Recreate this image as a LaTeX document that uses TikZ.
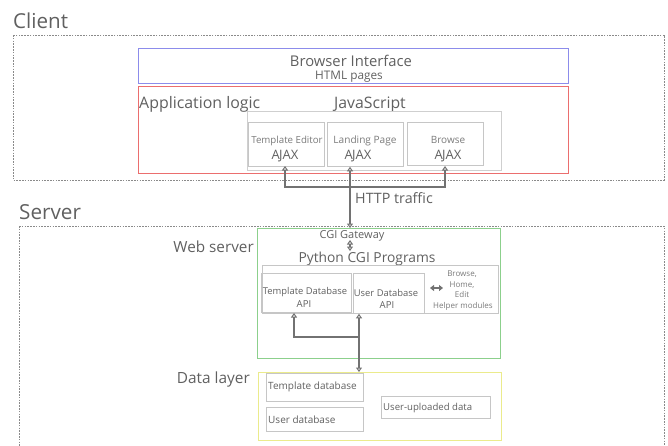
\documentclass[tikz,border=0pt]{standalone}
\usepackage{fontspec}
\setmainfont{Open Sans}
\usetikzlibrary{arrows.meta}
\definecolor{txt}{HTML}{606060}
\definecolor{txtlight}{HTML}{7A7A7A}
\definecolor{frame}{HTML}{8A8A8A}
\definecolor{inner}{HTML}{C6C6C6}
\definecolor{blueline}{HTML}{8C8CEB}
\definecolor{redline}{HTML}{EB6E6E}
\definecolor{greenline}{HTML}{8CD08C}
\definecolor{yellowline}{HTML}{EBEB8C}
\definecolor{arrowcol}{HTML}{727272}
\newcommand{\fs}[1]{\fontsize{#1}{#1}\selectfont}
\newcommand{\ajax}{A\kern-0.9pt JAX}
\tikzset{
  region/.style={draw=frame, line width=0.7pt, dash pattern=on 1.6pt off 1.2pt},
  layer/.style={draw=#1, line width=1.1pt, inner sep=0pt, anchor=north west},
  part/.style={draw=inner, line width=0.8pt, inner sep=0pt, anchor=north west},
  lbl/.style={text=txt, inner sep=0pt, anchor=base},
  small/.style={text=txtlight},
  link/.style={draw=arrowcol, line width=1.3pt,
    arrows={Triangle[open, length=4.5pt, width=6pt, line width=1pt]-Triangle[open, length=4.5pt, width=6pt, line width=1pt]}},
  feed/.style={draw=arrowcol, line width=1.3pt,
    arrows={-Triangle[open, length=4.5pt, width=6pt, line width=1pt]}},
}
\begin{document}
\begin{tikzpicture}[x=1pt, y=-1pt]
\useasboundingbox (0,0) rectangle (668,445);

% ---------- Client side ----------
\node[lbl, font=\fs{20.6}, anchor=base west] (client) at (13,28) {Client};
\draw[region] (13,35) rectangle (664,180);

\node[layer=blueline, minimum width=430, minimum height=35] (browser) at (138,48) {};
\node[lbl, font=\fs{14.8}] (browsertxt) at (351,66) {Browser Interface};
\node[lbl, font=\fs{11.8}] (htmltxt) at (349,79.5) {HTML pages};

\node[layer=redline, minimum width=430, minimum height=87] (applogic) at (138,86) {};
\node[lbl, font=\fs{15.9}, anchor=base west] (apptxt) at (139,108) {Application logic};
\node[lbl, font=\fs{15.8}] (jstxt) at (370,108) {JavaScript};

\node[part, draw=inner!85, minimum width=254, minimum height=59] (js) at (247,111) {};
\node[part, minimum width=76, minimum height=44] (te) at (248,122) {};
\node[part, minimum width=76, minimum height=44] (lp) at (327,122) {};
\node[part, minimum width=76, minimum height=43] (br) at (407,122) {};
\node[lbl, small, font=\fs{9.7}] (tetxt) at (287,143) {Template Editor};
\node[lbl, font=\fs{13}] (teajax) at (285,159) {\ajax};
\node[lbl, small, font=\fs{10.1}] (lptxt) at (365,143) {Landing Page};
\node[lbl, font=\fs{13}] (lpajax) at (358,159) {\ajax};
\node[lbl, small, font=\fs{10}] (brtxt) at (448,143) {Browse};
\node[lbl, font=\fs{13}] (brajax) at (448,159) {\ajax};

% ---------- Server side ----------
\node[lbl, font=\fs{20.7}, anchor=base west] (server) at (19,219) {Server};
\draw[region] (19,226) -- (664,226) -- (664,450);
\draw[region] (19,226) -- (19,450);

\node[layer=greenline, minimum width=243, minimum height=130] (web) at (257,228) {};
\node[lbl, font=\fs{15.3}, anchor=base east] (webtxt) at (254,252) {Web server};
\node[lbl, font=\fs{11}] (gateway) at (352,238) {CGI Gateway};
\node[lbl, font=\fs{13.8}] (python) at (367,262) {Python CGI Programs};

\node[part, minimum width=236, minimum height=48] (progs) at (262,265) {};
\node[part, minimum width=90, minimum height=39] (tdb) at (261,273) {};
\node[part, minimum width=71, minimum height=40] (udb) at (353,273) {};
\node[lbl, font=\fs{9.4}] (tdbtxt) at (305,294) {Template Database};
\node[lbl, font=\fs{9.6}] (tdbapi) at (304,307) {API};
\node[lbl, font=\fs{9.4}] (udbtxt) at (386,296) {User Database};
\node[lbl, font=\fs{9.6}] (udbapi) at (387,308) {API};

\node[lbl, small, font=\fs{8}] (h1) at (462,276) {Browse,};
\node[lbl, small, font=\fs{8}] (h2) at (462,287) {Home,};
\node[lbl, small, font=\fs{8}] (h3) at (462,297) {Edit};
\node[lbl, small, font=\fs{8}] (h4) at (463,308) {Helper modules};
\coordinate (hl) at (430,288);
\coordinate (hr) at (443,288);
\draw[draw=arrowcol, line width=1.1pt,
  arrows={Triangle[length=4pt, width=6pt]-Triangle[length=4pt, width=6pt]}] (hl) -- (hr);

\node[layer=yellowline, minimum width=243, minimum height=68] (data) at (258,372) {};
\node[lbl, font=\fs{15.4}, anchor=base east] (datatxt) at (250,383) {Data layer};
\node[part, minimum width=97, minimum height=28] (tdata) at (266,373) {};
\node[part, minimum width=97, minimum height=24] (udata) at (266,407) {};
\node[part, minimum width=109, minimum height=22] (updata) at (381,396) {};
\node[lbl, font=\fs{10}, anchor=base west] (tdatatxt) at (268,389) {Template database};
\node[lbl, font=\fs{10}, anchor=base west] (udatatxt) at (268,423) {User database};
\node[lbl, font=\fs{9.6}, anchor=base west] (updatatxt) at (383,410) {User-uploaded data};

% ---------- Connectors ----------
\coordinate (hub) at (350,187);
\coordinate (tehead) at (285,166);
\coordinate (brhead) at (445,166);
\draw[link] (lp.south -| hub) -- (web.north -| hub);
\draw[feed] (hub) -| (tehead);
\draw[feed] (hub) -| (brhead);
\node[lbl, font=\fs{14.3}, anchor=base west] (http) at (355,203) {HTTP traffic};

\draw[link, line width=1.1pt] (350,240) -- (350,251);

\coordinate (dhub) at (359,337);
\coordinate (tdbhead) at (294,313);
\draw[link] (udb.south -| dhub) -- (data.north -| dhub);
\draw[feed] (dhub) -| (tdbhead);
\end{tikzpicture}
\end{document}
